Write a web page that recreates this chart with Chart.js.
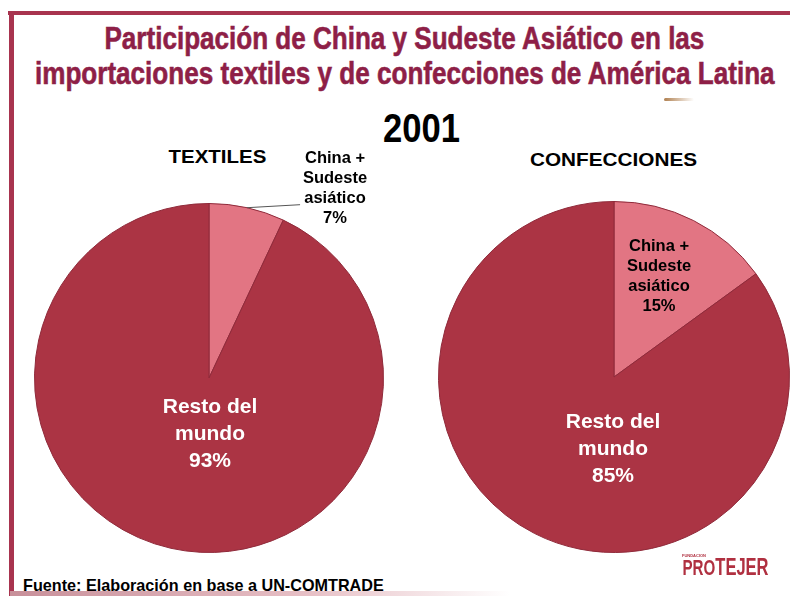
<!DOCTYPE html>
<html><head><meta charset="utf-8">
<script src="https://cdn.jsdelivr.net/npm/chart.js@4.4.0/dist/chart.umd.min.js"></script>
<style>
html,body{margin:0;padding:0;background:#fff;}
#page{position:relative;width:790px;height:596px;overflow:hidden;background:#fff;font-family:"Liberation Sans",Arial,sans-serif;}
.t{position:absolute;white-space:nowrap;transform-origin:center center;}
.narrow{font-family:"Liberation Sans",Arial,sans-serif;font-weight:bold;}
.ttl{-webkit-text-stroke:0.6px #8e1f47;}
.lbl{position:absolute;text-align:center;font-weight:bold;line-height:20px;transform:translate(-50%,-50%);}
canvas{position:absolute;}
</style></head>
<body><div id="page">
  <div style="position:absolute;left:8px;top:11px;width:782px;height:4px;background:#a8344f;"></div>
  <div style="position:absolute;left:9px;top:11px;width:5px;height:585px;background:#a8344f;"></div>
  <div style="position:absolute;left:10px;top:591px;width:500px;height:5px;background:linear-gradient(90deg,#c8909a,#e7c0c6 60%,rgba(255,255,255,0));"></div>
  <div style="position:absolute;left:664px;top:98px;width:30px;height:3px;background:linear-gradient(90deg,#b08050,rgba(255,255,255,0));border-radius:2px;"></div>

  <div class="t narrow ttl" data-cx="404" data-cy="38" data-w="600" style="font-size:32px;color:#8e1f47;">Participación de China y Sudeste Asiático en las</div>
  <div class="t narrow ttl" data-cx="405" data-cy="73" data-w="740" style="font-size:32px;color:#8e1f47;">importaciones textiles y de confecciones de América Latina</div>
  <div class="t narrow" data-cx="421" data-cy="128" data-w="77" style="font-size:40px;color:#000;">2001</div>
  <div class="t" data-cx="217" data-cy="157" data-w="98" style="font-size:19px;font-weight:bold;color:#000;">TEXTILES</div>
  <div class="t" data-cx="613" data-cy="160" data-w="167" style="font-size:19px;font-weight:bold;color:#000;">CONFECCIONES</div>

  <canvas id="c1" width="400" height="430" style="left:0px;top:140px;width:400px;height:430px;"></canvas>
  <canvas id="c2" width="370" height="430" style="left:420px;top:140px;width:370px;height:430px;"></canvas>

  <div class="lbl" style="left:335px;top:187px;font-size:16.5px;color:#000;">China +<br>Sudeste<br>asiático<br>7%</div>
  <div class="lbl" style="left:659px;top:275px;font-size:16.5px;color:#000;">China +<br>Sudeste<br>asiático<br>15%</div>
  <div class="lbl" style="left:210px;top:432px;font-size:21px;line-height:27px;color:#fff;">Resto del<br>mundo<br>93%</div>
  <div class="lbl" style="left:613px;top:447px;font-size:21px;line-height:27px;color:#fff;">Resto del<br>mundo<br>85%</div>

  <div class="t narrow" data-cx="725" data-cy="567" data-w="86" style="font-size:22px;color:#b03040;">PRO<span style="font-size:24px">TEJER</span></div>
  <div class="t" style="left:682px;top:553px;font-size:4px;color:#b03040;font-weight:bold;">FUNDACION</div>
  <div class="t narrow" data-cx="203" data-cy="586" data-w="361" style="font-size:17px;color:#000;">Fuente: Elaboración en base a UN-COMTRADE</div>
</div>
<script>
// Data
const categories = ["China + Sudeste asiático", "Resto del mundo"];
const textilesValues = [7, 93];
const confeccionesValues = [15, 85];
const percentLabels1 = ["7%", "93%"];
const percentLabels2 = ["15%", "85%"];

// fit text widths
document.querySelectorAll('.t[data-cx]').forEach(el => {
  const w = el.offsetWidth, h = el.offsetHeight;
  const target = parseFloat(el.dataset.w);
  el.style.left = (parseFloat(el.dataset.cx) - w / 2) + 'px';
  el.style.top = (parseFloat(el.dataset.cy) - h / 2) + 'px';
  el.style.transform = 'scaleX(' + (target / w) + ')';
});

const colors = ['#e27583', '#ab3444'];

const leader = {
  id: 'leader',
  afterDatasetsDraw(chart, args, opts) {
    if (!opts.draw) return;
    const arc = chart.getDatasetMeta(0).data[0];
    const mid = (arc.startAngle + arc.endAngle) / 2;
    const x0 = arc.x + Math.cos(mid) * arc.outerRadius;
    const y0 = arc.y + Math.sin(mid) * arc.outerRadius;
    const ctx = chart.ctx;
    ctx.save();
    ctx.strokeStyle = '#555';
    ctx.lineWidth = 1;
    ctx.beginPath();
    ctx.moveTo(x0, y0);
    ctx.lineTo(x0 + opts.dx, y0 + opts.dy);
    ctx.stroke();
    ctx.restore();
  }
};

function makePie(id, values, pad, lead) {
  return new Chart(document.getElementById(id), {
    type: 'pie',
    data: { labels: categories, datasets: [{ data: values, backgroundColor: colors, borderColor: '#8f2a3a', borderWidth: 1 }] },
    options: {
      responsive: false, animation: false,
      layout: { padding: pad },
      plugins: { legend: { display: false }, tooltip: { enabled: false }, leader: lead }
    },
    plugins: [leader]
  });
}
makePie('c1', textilesValues, { left: 34, right: 16, top: 63, bottom: 17 }, { draw: true, dx: 53, dy: -3 });
makePie('c2', confeccionesValues, { left: 18, right: 0, top: 61, bottom: 17 }, { draw: false });
</script>
</body></html>
